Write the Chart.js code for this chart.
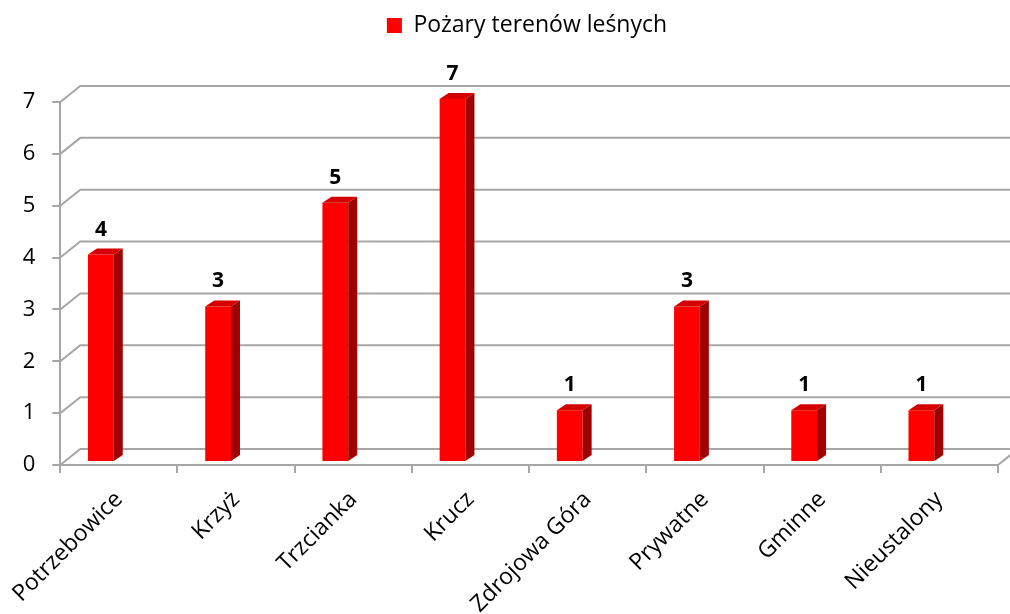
<!DOCTYPE html>
<html lang="pl">
<head>
    <meta charset="UTF-8">
    <title>Pożary terenów leśnych</title>
    <style>
        body { margin: 0; background: #fff; }
        #wrap { width: 1010px; height: 614px; }
    </style>
</head>
<body>
    <div id="wrap"><canvas id="fireChart"></canvas></div>

    <script src="https://cdn.jsdelivr.net/npm/chart.js"></script>
    <script>
        // dane z wykresu
        const categories = ['Potrzebowice', 'Krzyż', 'Trzcianka', 'Krucz', 'Zdrojowa Góra', 'Prywatne', 'Gminne', 'Nieustalony'];
        const fires = [4, 3, 5, 7, 1, 3, 1, 1];
        const seriesName = 'Pożary terenów leśnych';
        const yTicks = [0, 1, 2, 3, 4, 5, 6, 7];

        const FONT = "'Open Sans', sans-serif";
        const GRID = '#a6a6a6';
        const SHIFT_X = -18, SHIFT_Y = -3;   // przesunięcie słupków (efekt 3D)
        const DEPTH_X = 20, DEPTH_Y = -16;    // głębokość tylnej ściany
        const BAR_DX = 9, BAR_DY = -6;        // głębokość słupka
        const LEGEND_SHIFT = 28;

        // dodatkowy odstęp pod legendą + przesunięcie w prawo
        const legendGap = {
            id: 'legendGap',
            afterInit(chart) {
                const legend = chart.legend;
                if (!legend || legend._gapDone) return;
                const fit = legend.fit;
                legend.fit = function () {
                    fit.call(this);
                    this.height += 55;
                };
                legend._gapDone = true;
            },
            afterLayout(chart) {
                chart.legend.left += LEGEND_SHIFT;
                chart.legend.right += LEGEND_SHIFT;
            }
        };

        // tylna ściana i podłoga w stylu 3D
        const wallPlugin = {
            id: 'wall',
            beforeDatasetsDraw(chart) {
                const ctx = chart.ctx;
                const y = chart.scales.y;
                const area = chart.chartArea;
                ctx.save();
                ctx.strokeStyle = GRID;
                ctx.lineWidth = 2;
                yTicks.forEach(v => {
                    const py = y.getPixelForValue(v);
                    ctx.beginPath();
                    ctx.moveTo(area.left, py);
                    ctx.lineTo(area.left + DEPTH_X, py + DEPTH_Y);
                    ctx.lineTo(chart.width, py + DEPTH_Y);
                    ctx.stroke();
                });
                // prawa krawędź podłogi
                const p0 = y.getPixelForValue(0);
                ctx.beginPath();
                ctx.moveTo(area.right, p0);
                ctx.lineTo(area.right + DEPTH_X, p0 + DEPTH_Y);
                ctx.stroke();
                ctx.restore();

                ctx.save();
                ctx.translate(SHIFT_X, SHIFT_Y);
            },
            afterDatasetsDraw(chart) {
                const ctx = chart.ctx;
                const meta = chart.getDatasetMeta(0);
                meta.data.forEach((bar, i) => {
                    const half = bar.width / 2;
                    const l = bar.x - half, r = bar.x + half;
                    const top = bar.y, base = bar.base;
                    // bok
                    ctx.fillStyle = '#a00000';
                    ctx.beginPath();
                    ctx.moveTo(r, top);
                    ctx.lineTo(r + BAR_DX, top + BAR_DY);
                    ctx.lineTo(r + BAR_DX, base + BAR_DY);
                    ctx.lineTo(r, base);
                    ctx.closePath();
                    ctx.fill();
                    // góra
                    ctx.fillStyle = '#d40000';
                    ctx.beginPath();
                    ctx.moveTo(l, top);
                    ctx.lineTo(l + BAR_DX, top + BAR_DY);
                    ctx.lineTo(r + BAR_DX, top + BAR_DY);
                    ctx.lineTo(r, top);
                    ctx.closePath();
                    ctx.fill();
                    // etykieta wartości
                    ctx.fillStyle = '#000';
                    ctx.font = 'bold 21px ' + FONT;
                    ctx.textAlign = 'center';
                    ctx.textBaseline = 'middle';
                    ctx.fillText(String(fires[i]), bar.x, top - 25);
                });
                ctx.restore();
            }
        };

        new Chart(document.getElementById('fireChart'), {
            type: 'bar',
            data: {
                labels: categories,
                datasets: [{
                    label: seriesName,
                    data: fires,
                    backgroundColor: '#ff0000',
                    borderWidth: 0,
                    categoryPercentage: 1,
                    barPercentage: 0.22
                }]
            },
            options: {
                responsive: true,
                maintainAspectRatio: false,
                animation: false,
                layout: { padding: { top: 8, right: 12, bottom: 0, left: 0 } },
                plugins: {
                    legend: {
                        position: 'top',
                        labels: {
                            color: '#000',
                            font: { family: FONT, size: 23 },
                            boxWidth: 15,
                            boxHeight: 15,
                            padding: 6
                        }
                    },
                    tooltip: { enabled: false }
                },
                scales: {
                    x: {
                        offset: true,
                        grid: { offset: true, drawOnChartArea: false, color: GRID, lineWidth: 2, tickLength: 8 },
                        border: { color: GRID, width: 2 },
                        ticks: {
                            color: '#000',
                            font: { family: FONT, size: 23 },
                            minRotation: 45,
                            maxRotation: 45,
                            padding: 13
                        },
                        afterFit(s) { s.height = 149; }
                    },
                    y: {
                        min: 0,
                        max: 7,
                        grid: { drawOnChartArea: false, color: GRID, lineWidth: 2, tickLength: 8 },
                        border: { color: GRID, width: 2 },
                        ticks: {
                            stepSize: 1,
                            color: '#000',
                            font: { family: FONT, size: 22 },
                            padding: 17
                        },
                        afterFit(s) { s.width = 60; }
                    }
                }
            },
            plugins: [legendGap, wallPlugin]
        });
    </script>
</body>
</html>
